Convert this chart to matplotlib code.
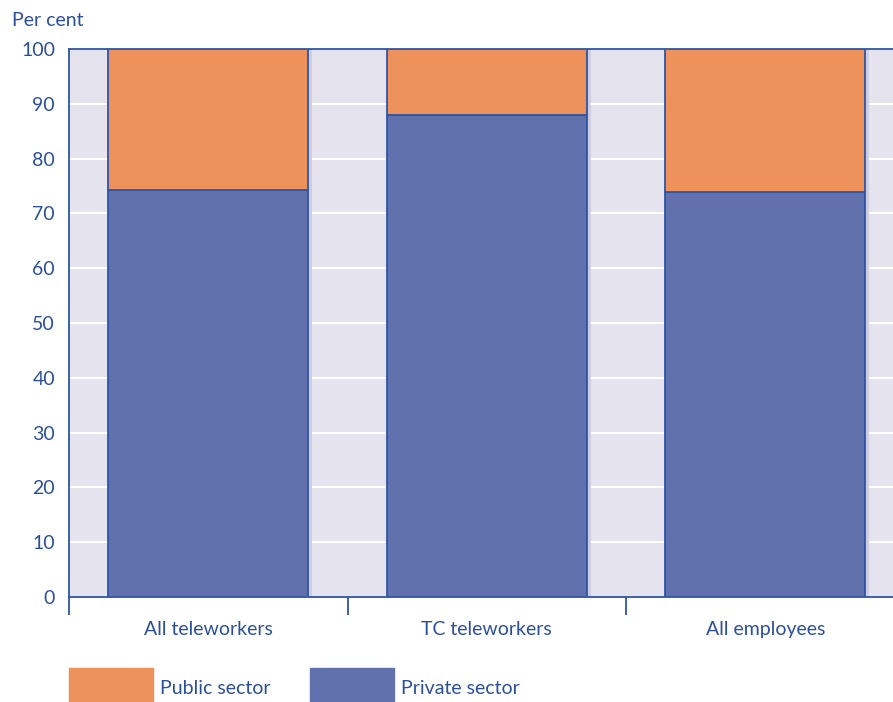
import numpy as np
import matplotlib.pyplot as plt
from matplotlib.patches import Rectangle

plt.rcParams['font.family'] = ['Lato', 'DejaVu Sans']

# Sector shares by group (per cent)
groups = ["All teleworkers", "TC teleworkers", "All employees"]
private = [74.3, 88.0, 73.9]
public = [25.7, 12.0, 26.1]
y_ticks = [0, 10, 20, 30, 40, 50, 60, 70, 80, 90, 100]

c_public = "#EE915B"
c_private = "#6171AE"
c_edge = "#2F55A4"
c_text = "#2C4F9B"
c_bg = "#E4E3EE"
fs = 14

W, H = 893, 702
fig = plt.figure(figsize=(W / 100, H / 100), dpi=100)
ax = fig.add_axes([69 / W, (H - 597) / H, 835.5 / W, 548 / H])
ax.set_facecolor(c_bg)

x = np.arange(len(groups))
bw = 0.718
total = np.array(private) + np.array(public)

# faint shadow on the right of each bar
ax.bar(x + bw / 2, total, width=0.014, align="edge", color="#CFCDE2",
       linewidth=0, zorder=2)
ax.bar(x, private, width=bw, color=c_private, edgecolor=c_edge,
       linewidth=1.3, zorder=3, label="Private sector")
ax.bar(x, public, bottom=private, width=bw, color=c_public, edgecolor=c_edge,
       linewidth=1.3, zorder=3, label="Public sector")

ax.set_xlim(-0.5, len(groups) - 0.5)
ax.set_ylim(0, 100)
ax.set_yticks(y_ticks)
ax.yaxis.grid(True, color="white", linewidth=1.5, zorder=1)
ax.set_axisbelow(True)
ax.tick_params(axis="y", length=0, pad=10, labelsize=fs, labelcolor=c_text)

# category labels between boundary ticks
ax.set_xticks(np.arange(len(groups) + 1) - 0.5)
ax.set_xticklabels([])
ax.tick_params(axis="x", length=13, width=1.3, color=c_edge)
ax.set_xticks(x, minor=True)
ax.set_xticklabels(groups, minor=True)
ax.tick_params(axis="x", which="minor", length=0, pad=17, labelsize=fs,
               labelcolor=c_text)

for s in ax.spines.values():
    s.set_color(c_edge)
    s.set_linewidth(1.3)

fig.text(12 / W, 1 - 20 / H, "Per cent", fontsize=fs, color=c_text,
         va="center", ha="left")

# legend drawn below the plot
for px, col, lab in [(69, c_public, "Public sector"), (310, c_private, "Private sector")]:
    fig.patches.append(Rectangle((px / W, 0), 84 / W, 34 / H, color=col,
                                 transform=fig.transFigure, figure=fig))
    fig.text((px + 91) / W, 1 - 689 / H, lab, fontsize=fs, color=c_text,
             va="center", ha="left")

fig.savefig("out.png", dpi=100)
